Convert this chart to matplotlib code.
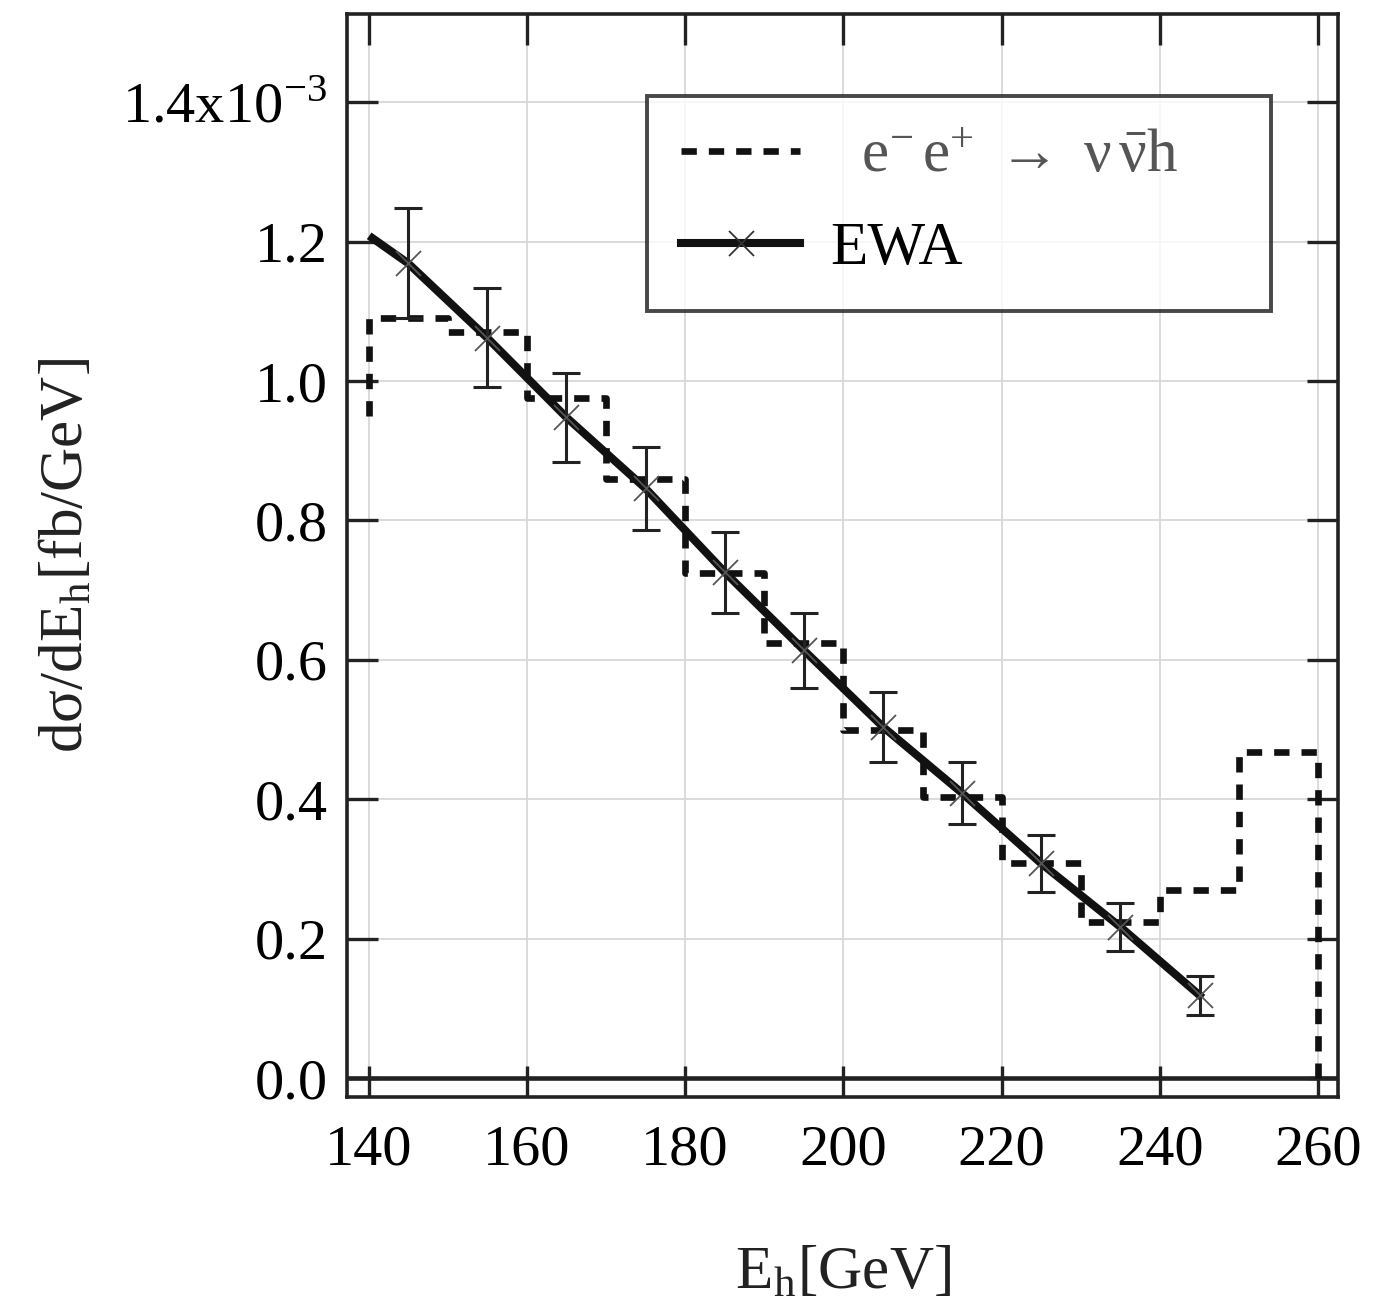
import numpy as np
import matplotlib
matplotlib.use("Agg")
import matplotlib.pyplot as plt

plt.rcParams["font.family"] = ["Liberation Serif", "DejaVu Serif"]
plt.rcParams["mathtext.fontset"] = "stix"

# values in units of 1e-3 fb/GeV
# full process e-e+ -> nu nubar h, histogram in 10 GeV bins
bin_edges = [140, 150, 160, 170, 180, 190, 200, 210, 220, 230, 240, 250, 260]
hist_vals = [1.09, 1.07, 0.975, 0.86, 0.725, 0.624, 0.50, 0.403, 0.308, 0.224, 0.270, 0.468]
hist_start = 0.95   # level entering the first bin from the left

# EWA curve and points with error bars
ewa_line_x = [140.5, 145, 155, 165, 175, 185, 195, 205, 215, 225, 235, 245]
ewa_line_y = [1.205, 1.169, 1.062, 0.948, 0.846, 0.726, 0.614, 0.504, 0.409, 0.308, 0.217, 0.119]
ewa_x = [145, 155, 165, 175, 185, 195, 205, 215, 225, 235, 245]
ewa_y = [1.169, 1.062, 0.948, 0.846, 0.726, 0.614, 0.504, 0.409, 0.308, 0.217, 0.119]
ewa_err = [0.079, 0.071, 0.064, 0.060, 0.058, 0.054, 0.050, 0.045, 0.041, 0.035, 0.028]

xticks = [140, 160, 180, 200, 220, 240, 260]
yticks = [0.0, 0.2, 0.4, 0.6, 0.8, 1.0, 1.2, 1.4]
ytick_labels = ["0.0", "0.2", "0.4", "0.6", "0.8", "1.0", "1.2", r"1.4x10$^{\mathregular{-3}}$"]

fig = plt.figure(figsize=(13.83, 13.06), dpi=100)
ax = fig.add_axes([0.251, 0.160, 0.7165, 0.829])

# step line built from bin edges
sx = [bin_edges[0]]
sy = [hist_start]
for i, v in enumerate(hist_vals):
    sx += [bin_edges[i], bin_edges[i + 1]]
    sy += [v, v]
sx.append(bin_edges[-1])
sy.append(0.0)
ax.plot(sx, sy, color="#111111", lw=4.8, dashes=(2.3, 1.8),
        solid_joinstyle="miter",
        label=r"  $\mathregular{e^{-}\,e^{+}\ \rightarrow\ \nu\,\bar{\nu}h}$",
        zorder=3)

ax.plot(ewa_line_x, ewa_line_y, color="#111111", lw=5.8, zorder=4)
ax.errorbar(ewa_x, ewa_y, yerr=ewa_err, fmt="none", ecolor="#222222",
            elinewidth=2.2, capsize=10, capthick=2.2, zorder=5)
ax.plot(ewa_x, ewa_y, ls="none", marker="x", ms=18, mew=1.3, color="#555555", zorder=6)

# legend proxy for EWA
ax.plot([], [], color="#111111", lw=5.8, marker="x", ms=18, mew=1.3,
        mec="#333333", label="EWA")

ax.axhline(0, color="#222222", lw=3.3, zorder=2)

ax.set_xlim(137.3, 262.5)
ax.set_ylim(-0.027, 1.526)
ax.set_xticks(xticks)
ax.set_yticks(yticks)
ax.set_yticklabels(ytick_labels)
ax.grid(True, color="#d8d8d8", lw=1.3, zorder=0)
ax.set_axisbelow(True)

ax.tick_params(axis="both", which="both", direction="in", length=22, width=2.4,
               color="#222222", top=True, right=True, labelsize=42)
ax.tick_params(axis="x", pad=20)
ax.tick_params(axis="y", pad=14)
for sp in ax.spines.values():
    sp.set_linewidth(2.6)
    sp.set_color("#222222")

ax.set_xlabel(r"E$_{\mathregular{h}}$[GeV]", fontsize=44, labelpad=50, color="#222222")
ax.set_ylabel(r"d$\mathregular{\sigma}$/dE$_{\mathregular{h}}$[fb/GeV]", fontsize=44,
              labelpad=19, color="#222222")

leg = ax.legend(loc="upper left", bbox_to_anchor=(0.303, 0.925, 0.629, 0.0),
                mode="expand", fontsize=44, frameon=True, fancybox=False,
                edgecolor="#1a1a1a", handlelength=1.95, handletextpad=0.5,
                borderpad=0.55, borderaxespad=0.0, labelspacing=0.6)
leg.get_frame().set_linewidth(2.8)
leg.get_texts()[0].set_color("#555555")

fig.savefig("out.png", dpi=100)
